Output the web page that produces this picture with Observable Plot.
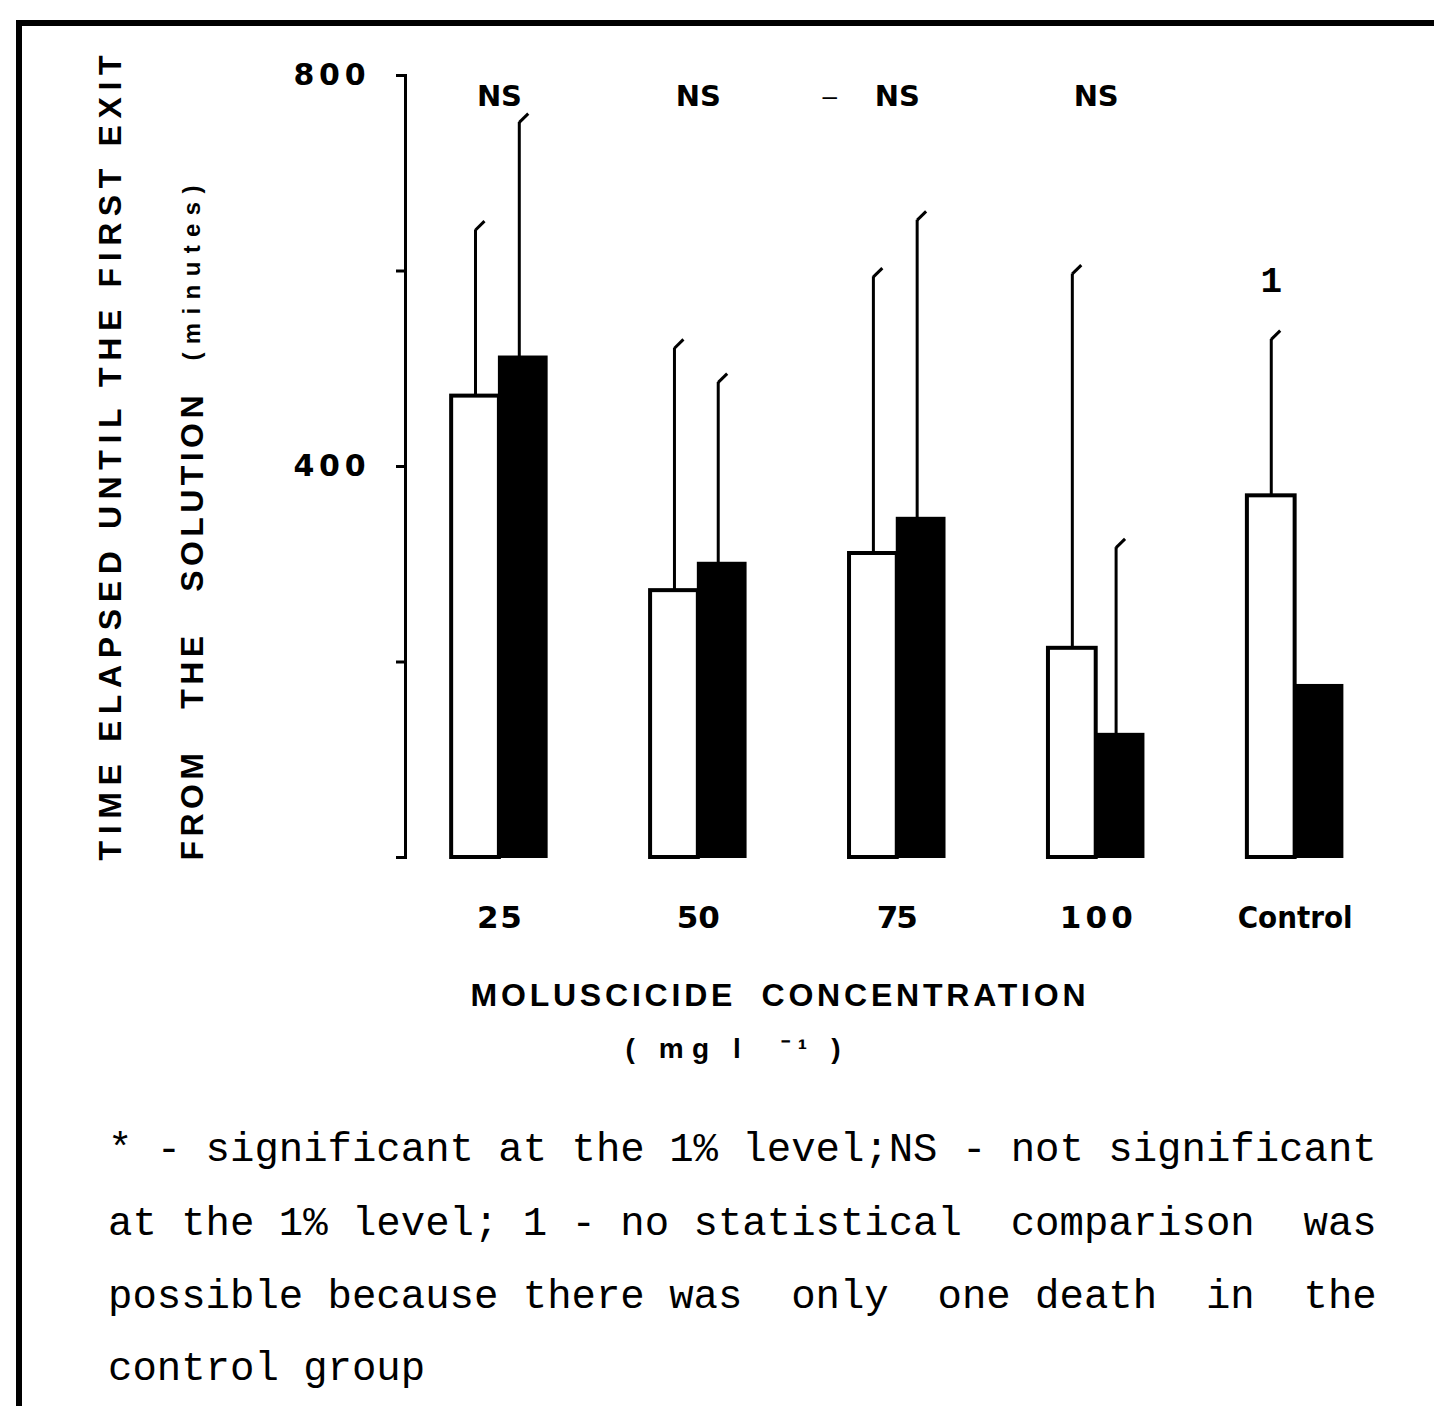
<!DOCTYPE html>
<html><head><meta charset="utf-8">
<script src="https://cdn.jsdelivr.net/npm/d3@7"></script>
<script src="https://cdn.jsdelivr.net/npm/@observablehq/plot@0.6"></script>
<style>
html,body{margin:0;padding:0;background:#fff;}
#page{position:relative;width:1434px;height:1406px;overflow:hidden;background:#fff;}
#frame{position:absolute;left:16px;top:20px;right:-20px;bottom:-20px;border-left:6px solid #000;border-top:6px solid #000;}
#chart{position:absolute;left:0;top:0;}
.fn{position:absolute;left:108px;font-family:"Liberation Mono",monospace;font-size:40.67px;line-height:40px;white-space:pre;color:#000;}
</style></head>
<body><div id="page"><div id="frame"></div><div id="chart"></div><div id="notes"></div></div>
<script>
// ---- data ----
const concentrations = ["25", "50", "75", "100", "Control"];
const meanWhite = [472, 273, 311, 214, 370];
const meanBlack = [512, 301, 347, 126, 176];
const errWhite  = [642, 521, 594, 597, 530];
const errBlack  = [752, 486, 652, 317, null];
const sigLabels = ["NS", "NS", "NS", "NS", "1"];
const sigValue  = [778, 778, 778, 778, 590];
const strayDashX = [1.66];
const strayDashY = [778];
const yTicks = [0, 200, 400, 600, 800];
const yTickLabels = ["", "", "400", "", "800"];
const yTitle1 = "TIME ELAPSED UNTIL THE FIRST EXIT";
const yTitle2 = "FROM   THE   SOLUTION";
const yTitle2b = "(minutes)";
const xTitle = "MOLUSCICIDE  CONCENTRATION";
const xUnits = "( mg l  \u207B\u00B9 )";
const footnoteLines = [
  "* - significant at the 1% level;NS - not significant",
  "at the 1% level; 1 - no statistical  comparison  was",
  "possible because there was  only  one death  in  the",
  "control group"
];

// ---- build ----
const BW = 0.24;
const DV = "'DejaVu Sans', sans-serif";
const groups = concentrations.map((c, i) => ({i, c, mw: meanWhite[i], mb: meanBlack[i], ew: errWhite[i], eb: errBlack[i], sig: sigLabels[i], sy: sigValue[i]}));
const xw = d => d.i - BW / 2;
const xb = d => d.i + BW / 2 - 0.02;
const blackErr = groups.filter(d => d.eb != null);
const dashes = strayDashX.map((x, k) => ({x, y: strayDashY[k]}));

const svg = Plot.plot({
  width: 1434, height: 1090,
  marginTop: 75, marginBottom: 233, marginLeft: 405, marginRight: 20,
  x: {domain: [-0.472, 4.6]},
  y: {domain: [0, 800]},
  style: {fontFamily: "'Liberation Sans', sans-serif", fontWeight: "bold", fontSize: "30px", background: "transparent", color: "#000"},
  marks: [
    Plot.frame({anchor: "left", strokeWidth: 3, stroke: "#000"}),
    Plot.axisY({ticks: yTicks, tickFormat: d => yTickLabels[yTicks.indexOf(d)], tickSize: 9, tickPadding: 31, strokeWidth: 3, fontSize: 30, fontFamily: DV}),
    Plot.axisX({ticks: concentrations.map((c, i) => i), tickFormat: i => concentrations[i], tickSize: 0, tickPadding: 48, fontSize: 31, fontFamily: DV}),
    Plot.rect(groups, {x1: d => d.i, x2: d => d.i + BW, y1: 0, y2: d => d.mb, fill: "#000", stroke: "#000", strokeWidth: 2}),
    Plot.rect(groups, {x1: d => d.i - BW, x2: d => d.i, y1: 0, y2: d => d.mw, fill: "#fff", stroke: "#000", strokeWidth: 4}),
    Plot.ruleX(groups, {x: xw, y1: d => d.mw, y2: d => d.ew, strokeWidth: 3}),
    Plot.ruleX(blackErr, {x: xb, y1: d => d.mb, y2: d => d.eb, strokeWidth: 3}),
    Plot.link(groups, {x1: xw, y1: d => d.ew, x2: d => xw(d) + 0.045, y2: d => d.ew + 9, strokeWidth: 3}),
    Plot.link(blackErr, {x1: xb, y1: d => d.eb, x2: d => xb(d) + 0.045, y2: d => d.eb + 9, strokeWidth: 3}),
    Plot.text(groups.filter(d => d.sig === "NS"), {x: "i", y: "sy", text: "sig", fontSize: 29, fontFamily: DV}),
    Plot.text(groups.filter(d => d.sig !== "NS"), {x: xw, y: "sy", text: "sig", fontSize: 36, fontFamily: "'Liberation Mono', monospace"}),
    Plot.text(dashes, {x: "x", y: "y", text: () => "\u2013", fontSize: 26, fontWeight: "normal"}),
    Plot.text([yTitle1], {text: d => d, frameAnchor: "left", rotate: -90, textAnchor: "start", dx: -295, dy: 394, fontSize: 32}),
    Plot.text([yTitle2], {text: d => d, frameAnchor: "left", rotate: -90, textAnchor: "start", dx: -213, dy: 394, fontSize: 32}),
    Plot.text([yTitle2b], {text: d => d, frameAnchor: "left", rotate: -90, textAnchor: "start", dx: -213, dy: -106, fontSize: 24}),
    Plot.text([xTitle], {text: d => d, frameAnchor: "bottom", dx: -132, dy: 148, fontSize: 32}),
    Plot.text([xUnits], {text: d => d, frameAnchor: "bottom", dx: -177, dy: 200, fontSize: 28})
  ]
});

const fits = new Map([
  [yTitle1, 805], [yTitle2, 465], [yTitle2b, 175], [xTitle, 615], [xUnits, 215],
  ["800", 72], ["400", 72], ["NS", 45], ["25", 45], ["50", 43], ["75", 41], ["100", 73], ["Control", 115]
]);
d3.select(svg).selectAll("text").each(function() {
  const t = this.textContent;
  this.style.whiteSpace = "pre";
  if (fits.has(t)) {
    this.setAttribute("textLength", fits.get(t));
    this.setAttribute("lengthAdjust", t === "Control" ? "spacingAndGlyphs" : "spacing");
  }
});
document.getElementById("chart").appendChild(svg);

const tops = [1130, 1204, 1277, 1349];
const notes = document.getElementById("notes");
footnoteLines.forEach((line, k) => {
  const div = document.createElement("div");
  div.className = "fn";
  div.style.top = tops[k] + "px";
  div.textContent = line;
  notes.appendChild(div);
});
</script>
</body></html>
